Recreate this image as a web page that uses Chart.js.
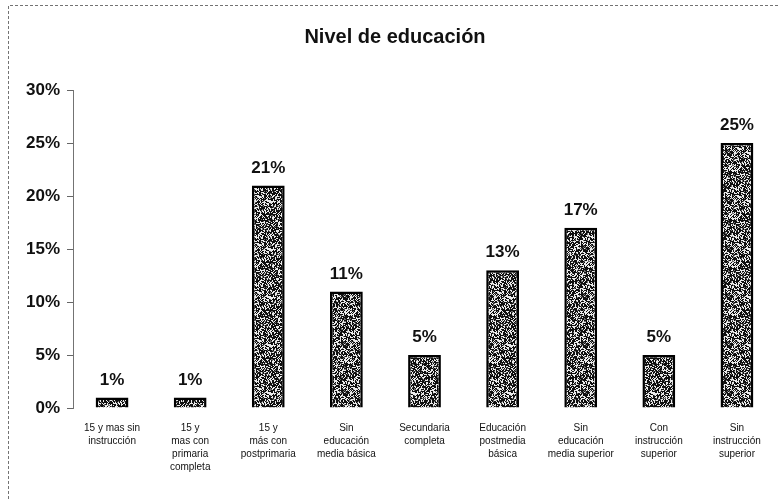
<!DOCTYPE html>
<html>
<head>
<meta charset="utf-8">
<script src="https://cdn.jsdelivr.net/npm/chart.js@4"></script>
<style>
  html, body { margin: 0; padding: 0; background: #fff; }
  #wrap { width: 778px; height: 499px; }
</style>
</head>
<body>
<div id="wrap"><canvas id="eduChart" width="778" height="499"></canvas></div>
<script>
const categories = [
  ['15 y mas sin', 'instrucción'],
  ['15 y', 'mas con', 'primaria', 'completa'],
  ['15 y', 'más con', 'postprimaria'],
  ['Sin', 'educación', 'media básica'],
  ['Secundaria', 'completa'],
  ['Educación', 'postmedia', 'básica'],
  ['Sin', 'educación', 'media superior'],
  ['Con', 'instrucción', 'superior'],
  ['Sin', 'instrucción', 'superior']
];
const percentages = [1, 1, 21, 11, 5, 13, 17, 5, 25];
const yTicks = [0, 5, 10, 15, 20, 25, 30];

// speckled black/white fill for the bars
function makeGrain() {
  const c = document.createElement('canvas');
  c.width = 48; c.height = 48;
  const g = c.getContext('2d');
  const img = g.createImageData(48, 48);
  for (let i = 0; i < 48 * 48; i++) {
    let h = (i * 2654435761) >>> 0;
    h = ((h ^ (h >>> 15)) * 2246822519) >>> 0;
    h = (h ^ (h >>> 13)) >>> 0;
    const v = (h % 100) < 34 ? 235 : ((h % 100) < 44 ? 110 : 15);
    img.data[i * 4] = v; img.data[i * 4 + 1] = v; img.data[i * 4 + 2] = v; img.data[i * 4 + 3] = 255;
  }
  g.putImageData(img, 0, 0);
  return document.getElementById('eduChart').getContext('2d').createPattern(c, 'repeat');
}

const valueLabels = {
  id: 'valueLabels',
  afterDatasetsDraw(chart) {
    const ctx = chart.ctx;
    ctx.save();
    ctx.font = 'bold 17px "Liberation Sans", Arial, sans-serif';
    ctx.fillStyle = '#111';
    ctx.textAlign = 'center';
    ctx.textBaseline = 'bottom';
    chart.getDatasetMeta(0).data.forEach((bar, i) => {
      ctx.fillText(percentages[i] + '%', bar.x, bar.y - 9);
    });
    ctx.restore();
  }
};

const frame = {
  id: 'frame',
  beforeDraw(chart) {
    const ctx = chart.ctx;
    ctx.save();
    ctx.strokeStyle = 'rgba(0,0,0,0.55)';
    ctx.lineWidth = 1;
    ctx.setLineDash([3, 2]);
    ctx.beginPath();
    ctx.moveTo(8.5, 499);
    ctx.lineTo(8.5, 5.5);
    ctx.lineTo(778, 5.5);
    ctx.stroke();
    ctx.restore();
  }
};

new Chart(document.getElementById('eduChart'), {
  type: 'bar',
  data: {
    labels: categories,
    datasets: [{
      label: 'Nivel de educación',
      data: percentages,
      backgroundColor: makeGrain(),
      borderColor: '#000',
      borderWidth: 2.5,
      categoryPercentage: 1,
      barPercentage: 0.42
    }]
  },
  options: {
    responsive: false,
    animation: false,
    layout: { padding: { left: 14, right: 2, top: 0, bottom: 0 } },
    scales: {
      y: {
        min: 0,
        max: 30,
        afterBuildTicks: axis => { axis.ticks = yTicks.map(v => ({ value: v })); },
        afterFit: axis => { axis.width = 59; },
        border: { display: true, color: 'rgba(0,0,0,0.55)', dash: [1, 3] },
        grid: { drawOnChartArea: false, tickLength: 6, color: 'rgba(0,0,0,0.6)' },
        ticks: {
          color: '#111',
          padding: 7,
          font: { size: 17, weight: 'bold', family: '"Liberation Sans", Arial, sans-serif' },
          callback: v => v + '%'
        }
      },
      x: {
        afterFit: axis => { axis.height = 91; },
        border: { display: false },
        grid: { display: false },
        ticks: {
          color: '#111',
          padding: 6,
          maxRotation: 0,
          autoSkip: false,
          font: { size: 10, family: '"Liberation Sans", Arial, sans-serif', lineHeight: 1.3 }
        }
      }
    },
    plugins: {
      legend: { display: false },
      tooltip: { enabled: false },
      title: {
        display: true,
        text: 'Nivel de educación',
        color: '#111',
        font: { size: 20, weight: 'bold', family: '"Liberation Sans", Arial, sans-serif' },
        padding: { top: 25, bottom: 41 }
      }
    }
  },
  plugins: [frame, valueLabels]
});
</script>
</body>
</html>
